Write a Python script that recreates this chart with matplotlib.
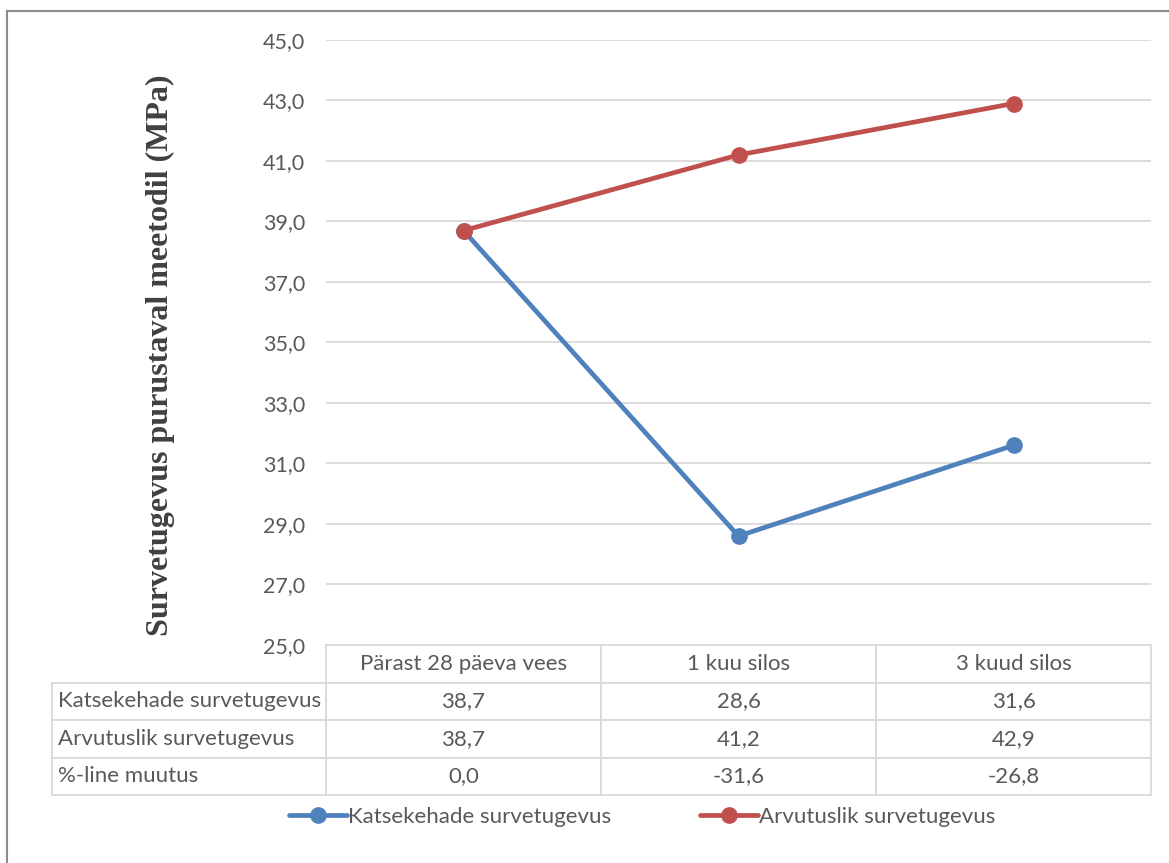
import matplotlib
matplotlib.use("Agg")
import matplotlib.pyplot as plt
from matplotlib.table import Table
from matplotlib.lines import Line2D

# data
categories = ['Pärast 28 päeva vees', '1 kuu silos', '3 kuud silos']
measured = [38.7, 28.6, 31.6]      # Katsekehade survetugevus
calculated = [38.7, 41.2, 42.9]    # Arvutuslik survetugevus
change_pct = [0.0, -31.6, -26.8]   # %-line muutus
series_names = ['Katsekehade survetugevus', 'Arvutuslik survetugevus', '%-line muutus']
yticks = [25, 27, 29, 31, 33, 35, 37, 39, 41, 43, 45]

TXT = '#595959'
GRID = '#d9d9d9'
BLUE = '#4f81bd'
RED = '#c0504d'
FONT = 'Lato'

W, H = 1169, 863
fig = plt.figure(figsize=(W / 100, H / 100), dpi=100)

# plot area in pixels
left, right, top, bottom = 326, 1151, 40, 645
pw, ph = right - left, bottom - top
ax = fig.add_axes([left / W, 1 - bottom / H, pw / W, ph / H])

x = list(range(len(categories)))
ax.plot(x, measured, color=BLUE, lw=3.4, marker='o', ms=11, solid_capstyle='round', zorder=3,
        label=series_names[0])
ax.plot(x, calculated, color=RED, lw=3.4, marker='o', ms=11, solid_capstyle='round', zorder=4,
        label=series_names[1])

ax.set_xlim(-0.5, len(categories) - 0.5)
ax.set_ylim(25, 45)
ax.set_yticks(yticks)
ax.set_yticklabels([f'{v:.1f}'.replace('.', ',') for v in yticks], fontsize=15.5,
                   color=TXT, family=FONT)
ax.set_xticks([])
ax.tick_params(axis='y', length=0, pad=15)
ax.grid(axis='y', color=GRID, lw=1.3)
ax.set_axisbelow(True)
for s in ax.spines.values():
    s.set_visible(False)

# data table under the plot (widths/heights in axes units)
cw = 1 / len(categories)
lw_ = 274 / pw
rh = 37.5 / ph
tab = Table(ax, loc='bottom')
for j, c in enumerate(categories):
    tab.add_cell(0, j, cw, rh, text=c, loc='center')
rows = [measured, calculated, change_pct]
for i, (name, vals) in enumerate(zip(series_names, rows), start=1):
    cell = tab.add_cell(i, -1, lw_, rh, text=name, loc='left')
    cell.PAD = 0.022
    for j, v in enumerate(vals):
        tab.add_cell(i, j, cw, rh, text=f'{v:.1f}'.replace('.', ','), loc='center')
tab.auto_set_font_size(False)
tab.set_fontsize(16)
for cell in tab.get_celld().values():
    cell.set_edgecolor(GRID)
    cell.set_linewidth(1.3)
    cell.get_text().set_color(TXT)
    cell.get_text().set_family(FONT)
ax.add_table(tab)

fig.text(160 / W, 1 - 355 / H, 'Survetugevus purustaval meetodil (MPa)', rotation=90,
         ha='center', va='center', fontsize=23, fontweight='bold',
         family='Liberation Serif', color='#404040')

handles, labels = ax.get_legend_handles_labels()
leg = fig.legend(handles, labels, loc='center', bbox_to_anchor=(642 / W, 1 - 817 / H), ncol=2,
                 frameon=False, handlelength=2.6, handletextpad=0.05, columnspacing=4.0,
                 prop={'family': FONT, 'size': 16})
for t in leg.get_texts():
    t.set_color(TXT)

# outer chart frame
fig.add_artist(Line2D([7 / W, 7 / W], [0, 1 - 11 / H], transform=fig.transFigure,
                      color='#8c8c8c', lw=1.5))
fig.add_artist(Line2D([7 / W, 1], [1 - 11 / H, 1 - 11 / H], transform=fig.transFigure,
                      color='#8c8c8c', lw=1.5))

fig.savefig('out.png', dpi=100)
